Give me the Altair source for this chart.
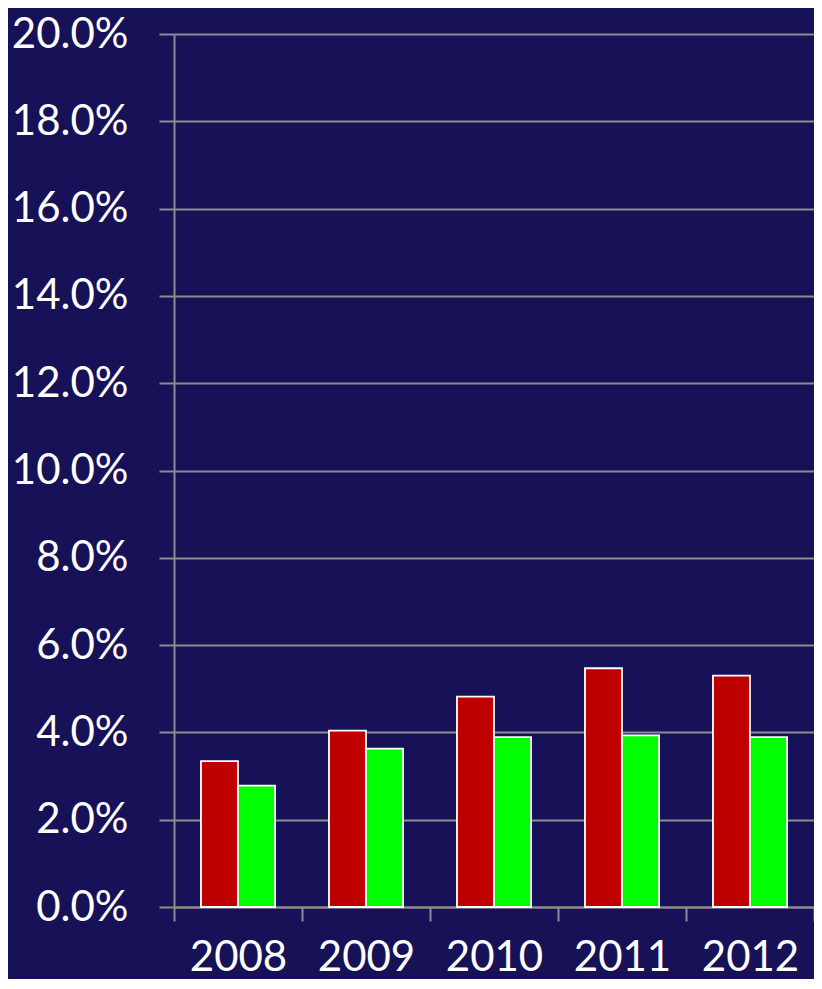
import altair as alt
import pandas as pd

years = ["2008", "2009", "2010", "2011", "2012"]
series_a = [0.0334, 0.0404, 0.0482, 0.0547, 0.0530]
series_b = [0.0278, 0.0363, 0.0389, 0.0393, 0.0389]
series_names = ["A", "B"]
colors = ["#c00000", "#00ff00"]
y_ticks = [i / 100 for i in range(0, 21, 2)]

rows = []
for i, y in enumerate(years):
    rows.append({"year": y, "series": series_names[0], "value": series_a[i]})
    rows.append({"year": y, "series": series_names[1], "value": series_b[i]})
df = pd.DataFrame(rows)

FONT = "Lato"

chart = alt.Chart(df).mark_bar(stroke="white", strokeWidth=1.8).encode(
    x=alt.X("year:N", sort=years,
            scale=alt.Scale(paddingInner=0, paddingOuter=0),
            axis=alt.Axis(title=None, labelAngle=0, tickBand="extent",
                          tickSize=14, tickWidth=2, tickColor="#8c8c8c",
                          domainColor="#8c8c8c", domainWidth=2,
                          labelBaseline="alphabetic", labelPadding=49,
                          labelFontSize=42, labelFont=FONT, labelColor="white",
                          grid=False)),
    xOffset=alt.XOffset("series:N", sort=series_names,
                        scale=alt.Scale(paddingInner=0, paddingOuter=0.728)),
    y=alt.Y("value:Q",
            scale=alt.Scale(domain=[0, 0.2], nice=False),
            axis=alt.Axis(title=None, values=y_ticks, format=".1%",
                          tickSize=15, tickWidth=2, tickColor="#8c8c8c",
                          domainColor="#8c8c8c", domainWidth=2,
                          gridColor="#8c8c8c", gridWidth=2,
                          labelPadding=31, labelFontSize=42, labelFont=FONT,
                          labelColor="white")),
    color=alt.Color("series:N", sort=series_names,
                    scale=alt.Scale(domain=series_names, range=colors),
                    legend=None),
).properties(
    width=640, height=873,
    autosize=alt.AutoSizeParams(type="none"),
    padding={"left": 166, "top": 26, "right": 0, "bottom": 72},
    background="#171157",
).configure_view(stroke=None)

chart.save("out.html", embed_options={"renderer": "svg", "actions": False})
